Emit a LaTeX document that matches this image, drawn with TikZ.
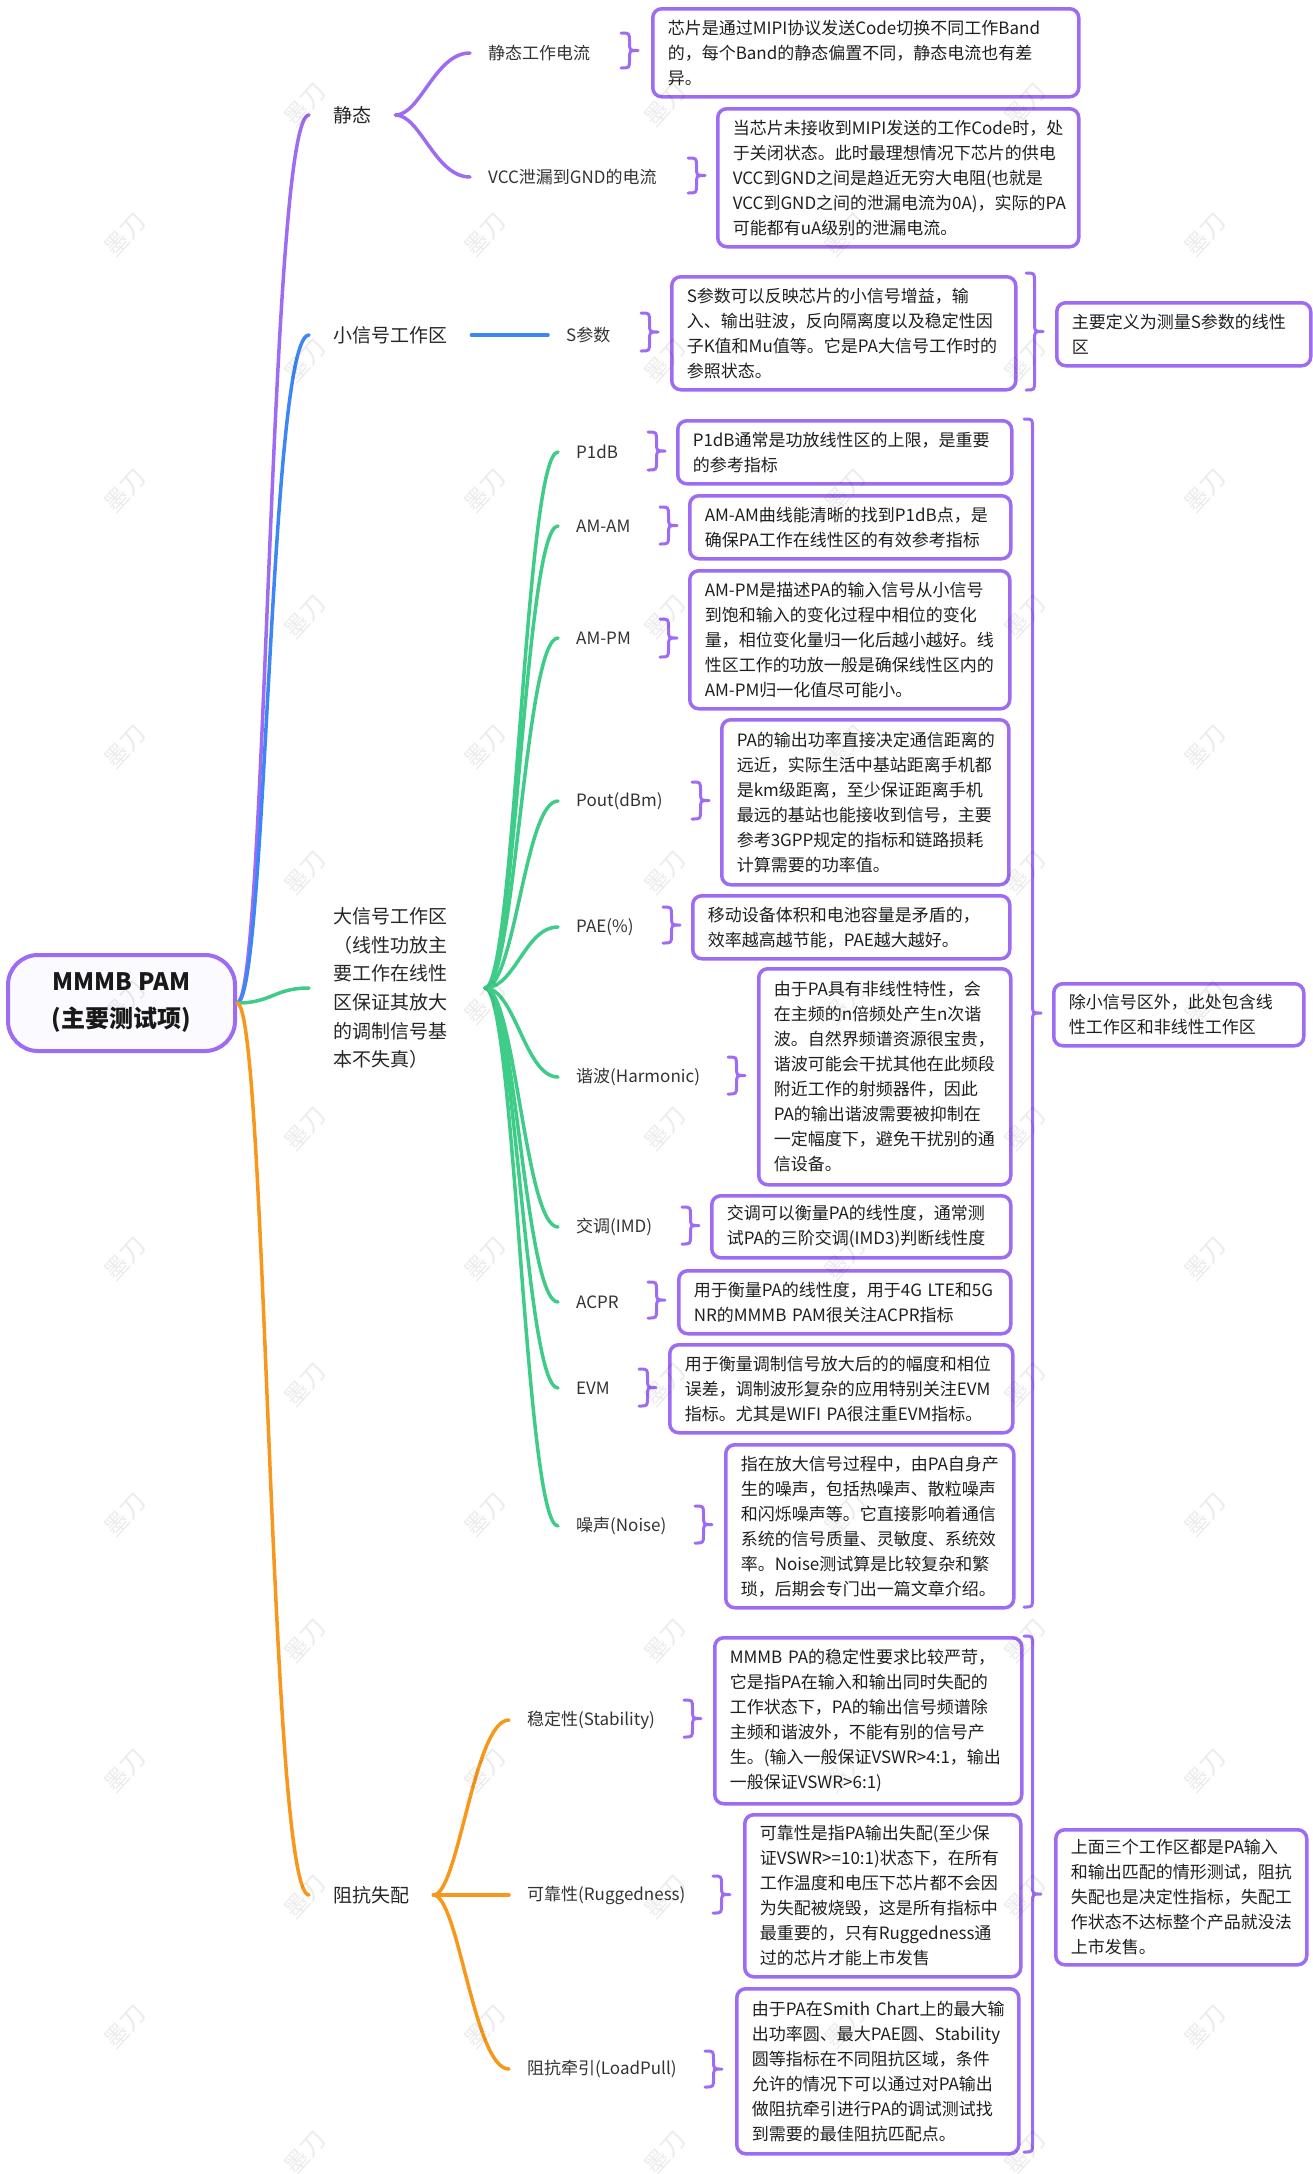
\documentclass[tikz,border=0pt]{standalone}
\usepackage{fontspec}
\setmainfont{Noto Sans CJK SC}
\definecolor{cPurple}{HTML}{9E6BF3}
\definecolor{cBlue}{HTML}{3D86F5}
\definecolor{cGreen}{HTML}{3ECC88}
\definecolor{cOrange}{HTML}{F7981D}
\definecolor{cRoot}{HTML}{FBFBFF}
\hyphenpenalty=10000
\exhyphenpenalty=10000
% curly brace: left x, top y, bottom y
\newcommand{\brc}[3]{%
  \draw[brc] (#1,#2) .. controls ({#1+8.5},#2) .. ({#1+8.5},{#2+8.5})
    -- ({#1+8.5},{(#2+#3)/2-8.5}) .. controls ({#1+8.5},{(#2+#3)/2}) .. ({#1+17},{(#2+#3)/2})
    .. controls ({#1+8.5},{(#2+#3)/2}) .. ({#1+8.5},{(#2+#3)/2+8.5})
    -- ({#1+8.5},{#3-8.5}) .. controls ({#1+8.5},#3) .. (#1,#3);}

\begin{document}
\begin{tikzpicture}[
 x=1pt,y=-1pt,line cap=round,line join=round,
 font=\fontsize{17}{25}\selectfont,
 root/.style={draw=cPurple,line width=4pt,fill=cRoot,rounded corners=30pt,
   minimum width=227pt,minimum height=96pt,align=center,text=black!90,
   font=\fontsize{24}{37}\selectfont\bfseries},
 lvone/.style={anchor=west,inner xsep=24pt,text=black!85,font=\fontsize{19}{28.7}\selectfont},
 lvtwo/.style={anchor=west,inner xsep=18pt,text=black!80,font=\fontsize{17}{20}\selectfont},
 box/.style 2 args={draw=cPurple,line width=3.5pt,rounded corners=9pt,fill=white,
   anchor=north west,inner xsep=15pt,inner ysep=0pt,align=left,text=black!88,
   text width=#1pt,minimum height=#2pt},
 link/.style={line width=3.5pt},
 brc/.style={draw=cPurple,line width=3pt},
 wmk/.style={rotate=48,opacity=.08,font=\fontsize{24}{24}\selectfont}]
\path[use as bounding box] (0,0) rectangle (1312,2174);

% root and first level
\node[root] (root) at (121.5,1003) {MMMB PAM\\(主要测试项)};
\node[lvone] (jt) at (309,115) {静态};
\node[lvone] (xx) at (309,335) {小信号工作区};
\node[lvone,align=left] (dx) at (309,988)
  {大信号工作区\\（线性功放主\\要工作在线性\\区保证其放大\\的调制信号基\\本不失真）};
\node[lvone] (zk) at (309,1895) {阻抗失配};

\draw[link,cPurple] (root.east) .. controls +(30,0) and +(-40,0) .. (jt.west);
\draw[link,cBlue] (root.east) .. controls +(30,0) and +(-40,0) .. (xx.west);
\draw[link,cGreen] (root.east) .. controls +(35,0) and +(-35,0) .. (dx.west);
\draw[link,cOrange] (root.east) .. controls +(30,0) and +(-40,0) .. (zk.west);

% static
\node[lvtwo] (jtA) at (470,53) {静态工作电流};
\node[lvtwo] (jtB) at (470,177) {VCC泄漏到GND的电流};
\draw[link,cPurple] (jt.east) .. controls +(25,0) and +(-35,0) .. (jtA.west);
\draw[link,cPurple] (jt.east) .. controls +(25,0) and +(-35,0) .. (jtB.west);
\node[box={396}{88}] (bJa) at (651,7)
  {芯片是通过MIPI协议发送Code切换不同工作Band\\的，每个Band的静态偏置不同，静态电流也有差\\异。};
\node[box={331}{138}] (bJb) at (716,107)
  {当芯片未接收到MIPI发送的工作Code时，处\\于关闭状态。此时最理想情况下芯片的供电\\VCC到GND之间是趋近无穷大电阻(也就是\\VCC到GND之间的泄漏电流为0A)，实际的PA\\可能都有uA级别的泄漏电流。};

% small signal
\node[lvtwo] (sp) at (548,335) {S参数};
\draw[link,cBlue] (xx.east) -- (sp.west);
\node[box={314}{113}] (bSp) at (670,275)
  {S参数可以反映芯片的小信号增益，输\\入、输出驻波，反向隔离度以及稳定性因\\子K值和Mu值等。它是PA大信号工作时的\\参照状态。};
\node[box={224}{63}] (nSp) at (1055,301) {主要定义为测量S参数的线性\\区};

% large signal
\coordinate (dxo) at (485,988);
\node[lvtwo] (p1) at (558,452) {P1dB};
\node[lvtwo] (aa) at (558,526) {AM-AM};
\node[lvtwo] (ap) at (558,638) {AM-PM};
\node[lvtwo] (po) at (558,801) {Pout(dBm)};
\node[lvtwo] (pae) at (558,927) {PAE(\%)};
\node[lvtwo] (har) at (558,1077) {谐波(Harmonic)};
\node[lvtwo] (imd) at (558,1227) {交调(IMD)};
\node[lvtwo] (acpr) at (558,1302) {ACPR};
\node[lvtwo] (evm) at (558,1388) {EVM};
\node[lvtwo] (noi) at (558,1526) {噪声(Noise)};
\foreach \n in {p1,aa,ap,po,pae,har,imd,acpr,evm,noi}
  \draw[link,cGreen] (dxo) .. controls +(30,0) and +(-33,0) .. (\n.west);

\node[box={304}{63}] (bP1) at (676,419) {P1dB通常是功放线性区的上限，是重要\\的参考指标};
\node[box={291}{63}] (bAA) at (688,494) {AM-AM曲线能清晰的找到P1dB点，是\\确保PA工作在线性区的有效参考指标};
\node[box={290}{138}] (bAP) at (688,569)
  {AM-PM是描述PA的输入信号从小信号\\到饱和输入的变化过程中相位的变化\\量，相位变化量归一化后越小越好。线\\性区工作的功放一般是确保线性区内的\\AM-PM归一化值尽可能小。};
\node[box={257}{165}] (bPo) at (720,718)
  {PA的输出功率直接决定通信距离的\\远近，实际生活中基站距离手机都\\是km级距离，至少保证距离手机\\最远的基站也能接收到信号，主要\\参考3GPP规定的指标和链路损耗\\计算需要的功率值。};
\node[box={287}{63}] (bPAE) at (691,894) {移动设备体积和电池容量是矛盾的，\\效率越高越节能，PAE越大越好。};
\node[box={222}{216}] (bHar) at (757,967)
  {由于PA具有非线性特性，会\\在主频的n倍频处产生n次谐\\波。自然界频谱资源很宝贵，\\谐波可能会干扰其他在此频段\\附近工作的射频器件，因此\\PA的输出谐波需要被抑制在\\一定幅度下，避免干扰别的通\\信设备。};
\node[box={269}{62}] (bIMD) at (710,1194) {交调可以衡量PA的线性度，通常测\\试PA的三阶交调(IMD3)判断线性度};
\node[box={302}{63}] (bACPR) at (677,1269) {用于衡量PA的线性度，用于4G~LTE和5G\\NR的MMMB~PAM很关注ACPR指标};
\node[box={313}{88}] (bEVM) at (668,1343)
  {用于衡量调制信号放大后的的幅度和相位\\误差，调制波形复杂的应用特别关注EVM\\指标。尤其是WIFI~PA很注重EVM指标。};
\node[box={258}{163}] (bNoi) at (724,1443)
  {指在放大信号过程中，由PA自身产\\生的噪声，包括热噪声、散粒噪声\\和闪烁噪声等。它直接影响着通信\\系统的信号质量、灵敏度、系统效\\率。Noise测试算是比较复杂和繁\\琐，后期会专门出一篇文章介绍。};
\node[box={220}{62}] (nDx) at (1052,982) {除小信号区外，此处包含线\\性工作区和非线性工作区};

% mismatch
\node[lvtwo] (sta) at (509,1720) {稳定性(Stability)};
\node[lvtwo] (rug) at (509,1895) {可靠性(Ruggedness)};
\node[lvtwo] (lp) at (509,2069) {阻抗牵引(LoadPull)};
\draw[link,cOrange] (zk.east) .. controls +(25,0) and +(-35,0) .. (sta.west);
\draw[link,cOrange] (zk.east) -- (rug.west);
\draw[link,cOrange] (zk.east) .. controls +(25,0) and +(-35,0) .. (lp.west);
\node[box={277}{166}] (bSta) at (713,1636)
  {MMMB~PA的稳定性要求比较严苛，\\它是指PA在输入和输出同时失配的\\工作状态下，PA的输出信号频谱除\\主频和谐波外，不能有别的信号产\\生。(输入一般保证VSWR>4:1，输出\\一般保证VSWR>6:1)};
\node[box={246}{162}] (bRug) at (743,1813)
  {可靠性是指PA输出失配(至少保\\证VSWR>=10:1)状态下，在所有\\工作温度和电压下芯片都不会因\\为失配被烧毁，这是所有指标中\\最重要的，只有Ruggedness通\\过的芯片才能上市发售};
\node[box={252}{165}] (bLP) at (735,1987)
  {由于PA在Smith~Chart上的最大输\\出功率圆、最大PAE圆、Stability\\圆等指标在不同阻抗区域，条件\\允许的情况下可以通过对PA输出\\做阻抗牵引进行PA的调试测试找\\到需要的最佳阻抗匹配点。};
\node[box={221}{135}] (nZk) at (1054,1828)
  {上面三个工作区都是PA输入\\和输出匹配的情形测试，阻抗\\失配也是决定性指标，失配工\\作状态不达标整个产品就没法\\上市发售。};

% braces
\foreach \bx/\bt/\bb in {621/33/68,688/158/193,641/313/351,648/432/470,660/507/544,
  660/619/657,692/782/819,663/907/943,728/1057/1094,682/1207/1244,648/1282/1318,
  639/1369/1406,695/1506/1543,684/1700/1737,713/1876/1913,705/2051/2087,
  1026/273/390,1024/419/1607,1024/1636/2152}
  \brc{\bx}{\bt}{\bb};

% watermark
\foreach \k in {0,...,6} {
  \pgfmathsetmacro{\wx}{125+180*\k}
  \pgfmathsetmacro{\wy}{isodd(\k) ? 105 : 235}
  \foreach \j in {0,...,8}
    \node[wmk] (wm-\k-\j) at (\wx,{\wy+256*\j}) {墨刀};
}
\end{tikzpicture}
\end{document}
